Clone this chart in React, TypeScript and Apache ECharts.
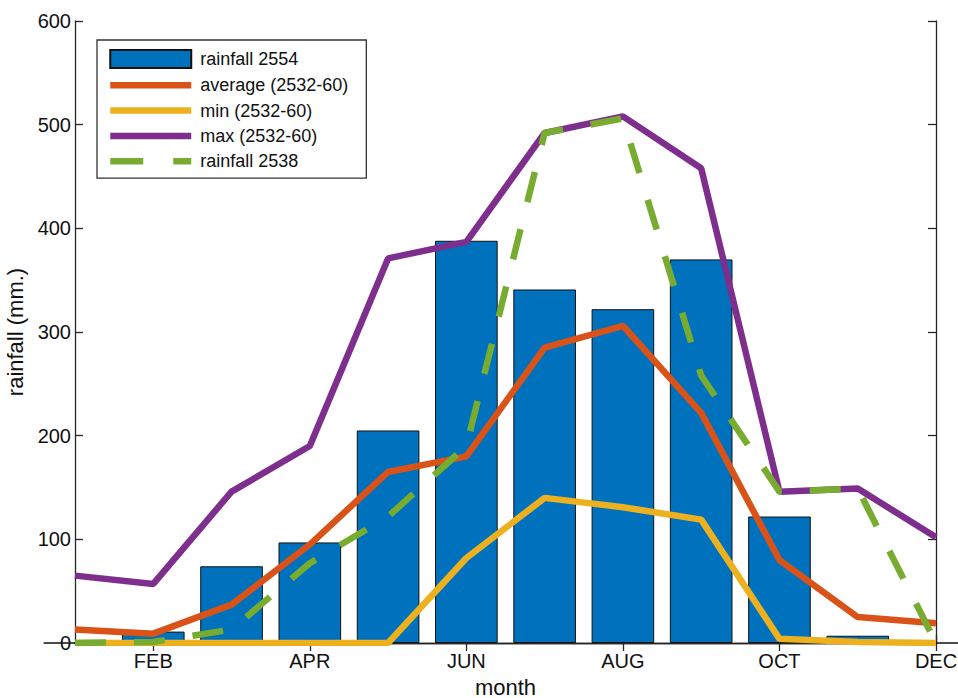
import React, { useEffect, useRef } from "react";
import * as echarts from "echarts";

const months = ["JAN", "FEB", "MAR", "APR", "MAY", "JUN", "JUL", "AUG", "SEP", "OCT", "NOV", "DEC"];
const rainfall2554 = [0, 11, 74, 97, 205, 388, 341, 322, 370, 122, 7, 0];
const average = [13, 9, 37, 95, 165, 180, 285, 306, 222, 80, 25, 19];
const minimum = [0, 0, 0, 0, 0, 82, 140, 131, 119, 4, 1, 0];
const maximum = [65, 57, 146, 190, 371, 387, 492, 508, 458, 146, 149, 102];
const rainfall2538 = [0, 1, 13, 77, 122, 190, 492, 506, 258, 146, 149, 0];

const FONT = "'Liberation Sans', Arial, Helvetica, sans-serif";
const LW = 6.5;

export default function App() {
  const ref = useRef<HTMLDivElement>(null);
  useEffect(() => {
    document.body.style.margin = "0";
    const chart = echarts.init(ref.current!, null, { renderer: "svg" });
    const axisLineStyle = { color: "#262626", width: 1.3 };
    const oddOnly = (i: number) => i % 2 === 1;
    const lineLegend = (name: string, dash?: number[]) => ({
      name,
      itemStyle: { opacity: 0 },
      lineStyle: { width: LW, type: dash ? dash : "solid" },
    });
    chart.setOption({
      animation: false,
      backgroundColor: "#fff",
      textStyle: { fontFamily: FONT },
      grid: { left: 75, right: 22, top: 21, bottom: 55, containLabel: false, outerBoundsMode: "none" },
      legend: {
        left: 97,
        top: 40,
        orient: "vertical",
        padding: [9, 18, 8, 10],
        itemWidth: 81,
        itemHeight: 18,
        itemGap: 7.3,
        borderColor: "#333",
        borderWidth: 1.3,
        backgroundColor: "#fff",
        textStyle: { fontSize: 18, color: "#111", fontFamily: FONT, padding: [0, 0, 0, 4] },
        data: [
          { name: "rainfall 2554", icon: "rect" },
          lineLegend("average (2532-60)"),
          lineLegend("min (2532-60)"),
          lineLegend("max (2532-60)"),
          lineLegend("rainfall 2538", [33, 30]),
        ],
      },
      xAxis: [
        {
          type: "category",
          data: months,
          boundaryGap: false,
          name: "month",
          nameLocation: "middle",
          nameGap: 33,
          nameTextStyle: { fontSize: 22, color: "#111", fontFamily: FONT },
          axisLine: { show: true, lineStyle: axisLineStyle },
          axisTick: { show: true, inside: true, length: 8, interval: oddOnly, lineStyle: axisLineStyle },
          axisLabel: { interval: oddOnly, fontSize: 20, color: "#111", margin: 8, fontFamily: FONT },
          splitLine: { show: false },
        },
        {
          type: "category",
          data: months,
          boundaryGap: false,
          position: "top",
          axisLine: { show: true, lineStyle: axisLineStyle },
          axisTick: { show: true, inside: true, length: 8, interval: oddOnly, lineStyle: axisLineStyle },
          axisLabel: { show: false },
          splitLine: { show: false },
        },
      ],
      yAxis: [
        {
          type: "value",
          min: 0,
          max: 600,
          interval: 100,
          name: "rainfall (mm.)",
          nameLocation: "middle",
          nameGap: 43,
          nameTextStyle: { fontSize: 22, color: "#111", fontFamily: FONT },
          axisLine: { show: true, lineStyle: axisLineStyle },
          axisTick: { show: true, inside: true, length: 8, lineStyle: axisLineStyle },
          axisLabel: { fontSize: 20, color: "#111", margin: 4, fontFamily: FONT },
          splitLine: { show: false },
        },
        {
          type: "value",
          min: 0,
          max: 600,
          interval: 100,
          position: "right",
          axisLine: { show: true, lineStyle: axisLineStyle },
          axisTick: { show: true, inside: true, length: 8, lineStyle: axisLineStyle },
          axisLabel: { show: false },
          splitLine: { show: false },
        },
      ],
      series: [
        {
          name: "rainfall 2554",
          type: "bar",
          data: rainfall2554,
          barWidth: "80%",
          itemStyle: { color: "#0072BD", borderColor: "#111", borderWidth: 1 },
        },
        {
          name: "average (2532-60)",
          type: "line",
          data: average,
          symbol: "none",
          lineStyle: { color: "#D95319", width: LW },
          itemStyle: { color: "#D95319" },
        },
        {
          name: "min (2532-60)",
          type: "line",
          data: minimum,
          symbol: "none",
          lineStyle: { color: "#EDB120", width: LW },
          itemStyle: { color: "#EDB120" },
        },
        {
          name: "max (2532-60)",
          type: "line",
          data: maximum,
          symbol: "none",
          lineStyle: { color: "#7E2F8E", width: LW },
          itemStyle: { color: "#7E2F8E" },
        },
        {
          name: "rainfall 2538",
          type: "line",
          data: rainfall2538,
          symbol: "none",
          lineStyle: { color: "#77AC30", width: LW, type: [31, 28] },
          itemStyle: { color: "#77AC30" },
        },
      ],
    });
    return () => chart.dispose();
  }, []);
  return <div ref={ref} style={{ width: 958, height: 698 }} />;
}
